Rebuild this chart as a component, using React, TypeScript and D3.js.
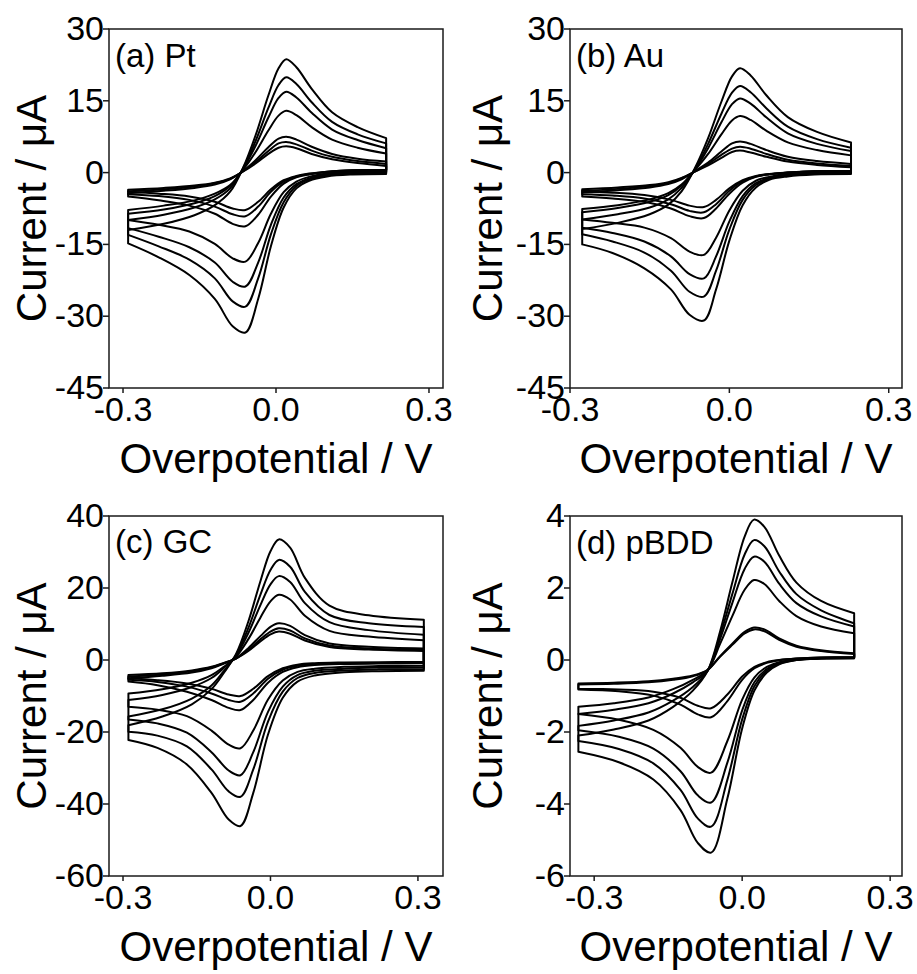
import React from "react";
import * as d3 from "d3";

// ---------- (a) Pt ----------
const ptFwdX = [-0.29, -0.22, -0.16, -0.12, -0.09, -0.065, -0.04, -0.015, 0.005, 0.02, 0.04, 0.07, 0.11, 0.16, 0.216];
const ptFwd = [
  [-12.0, -10.7, -8.9, -6.8, -4.0, 0.9, 7.8, 16.1, 21.8, 23.7, 22.0, 17.5, 12.6, 9.5, 7.2],
  [-9.9, -8.8, -7.3, -5.6, -3.3, 0.8, 6.6, 13.5, 18.3, 19.9, 18.5, 14.7, 10.6, 8.0, 6.1],
  [-8.6, -7.7, -6.4, -4.9, -2.8, 0.7, 5.6, 11.5, 15.6, 16.9, 15.7, 12.5, 9.0, 6.8, 5.1],
  [-7.8, -6.9, -5.8, -4.4, -2.6, 0.5, 4.3, 8.8, 11.9, 12.9, 12.0, 9.5, 6.9, 5.2, 4.0],
  [-4.3, -3.8, -3.2, -2.5, -1.4, 0.3, 2.6, 5.3, 7.1, 7.5, 6.9, 5.4, 3.9, 2.9, 2.3],
  [-3.9, -3.5, -2.9, -2.2, -1.3, 0.25, 2.2, 4.5, 6.1, 6.4, 5.9, 4.6, 3.3, 2.4, 1.8],
  [-3.6, -3.2, -2.7, -2.1, -1.2, 0.2, 1.9, 3.9, 5.2, 5.5, 5.1, 3.9, 2.8, 2.0, 1.4],
];
const ptRevX = [0.216, 0.15, 0.1, 0.065, 0.04, 0.015, -0.01, -0.035, -0.06, -0.085, -0.12, -0.17, -0.23, -0.29];
const ptRev = [
  [-0.3, -0.4, -0.8, -1.7, -3.3, -7.3, -15.4, -26.4, -33.4, -32.1, -26.4, -21.4, -17.7, -14.8],
  [-0.1, -0.2, -0.6, -1.4, -2.8, -6.2, -12.9, -22.1, -28.0, -26.9, -22.1, -18.2, -15.4, -13.0],
  [0.1, 0.0, -0.4, -1.2, -2.4, -5.2, -10.9, -18.8, -23.8, -22.8, -18.8, -15.6, -13.4, -11.6],
  [0.3, 0.2, -0.2, -0.9, -1.9, -4.1, -8.6, -14.7, -18.6, -17.9, -14.9, -12.3, -10.9, -9.9],
  [0.5, 0.4, 0.1, -0.4, -1.0, -2.3, -5.0, -8.8, -11.2, -10.7, -8.6, -6.9, -5.8, -5.0],
  [0.6, 0.5, 0.2, -0.3, -0.8, -1.9, -4.0, -7.1, -9.1, -8.7, -7.1, -5.7, -4.9, -4.5],
  [0.6, 0.5, 0.2, -0.2, -0.7, -1.6, -3.5, -6.1, -7.8, -7.5, -6.1, -5.0, -4.4, -4.0],
];
const ptYTicks = [30, 15, 0, -15, -30, -45];

// ---------- (b) Au ----------
const auFwdX = [-0.277, -0.21, -0.15, -0.115, -0.09, -0.065, -0.04, -0.015, 0.005, 0.02, 0.04, 0.07, 0.11, 0.165, 0.229];
const auFwd = [
  [-11.8, -10.5, -8.7, -6.7, -3.9, 0.9, 7.2, 14.8, 20.1, 21.8, 20.3, 16.1, 11.6, 8.5, 6.3],
  [-9.8, -8.7, -7.3, -5.6, -3.2, 0.7, 6.0, 12.3, 16.7, 18.1, 16.8, 13.4, 9.6, 7.0, 5.2],
  [-8.3, -7.4, -6.1, -4.7, -2.7, 0.6, 5.1, 10.5, 14.3, 15.5, 14.4, 11.5, 8.2, 6.0, 4.5],
  [-7.6, -6.8, -5.6, -4.3, -2.5, 0.5, 3.9, 8.0, 10.9, 11.8, 11.0, 8.7, 6.3, 4.7, 3.6],
  [-4.2, -3.7, -3.1, -2.4, -1.4, 0.3, 2.1, 4.4, 6.1, 6.5, 6.0, 4.7, 3.3, 2.4, 1.8],
  [-3.8, -3.4, -2.8, -2.2, -1.2, 0.2, 1.8, 3.7, 5.0, 5.4, 5.0, 3.9, 2.7, 1.9, 1.4],
  [-3.5, -3.1, -2.6, -2.0, -1.1, 0.2, 1.5, 3.1, 4.3, 4.6, 4.2, 3.3, 2.3, 1.6, 1.1],
];
const auRevX = [0.229, 0.16, 0.11, 0.075, 0.05, 0.025, 0.0, -0.025, -0.048, -0.075, -0.11, -0.16, -0.22, -0.277];
const auRev = [
  [-0.3, -0.4, -0.8, -1.5, -3.1, -6.8, -14.2, -24.4, -30.9, -29.7, -24.4, -20.0, -16.8, -15.0],
  [-0.1, -0.2, -0.6, -1.3, -2.6, -5.7, -11.9, -20.5, -25.9, -24.9, -20.5, -16.7, -14.4, -12.9],
  [0.1, 0.0, -0.4, -1.1, -2.2, -4.9, -10.2, -17.5, -22.1, -21.2, -17.5, -14.4, -12.6, -11.5],
  [0.3, 0.2, -0.2, -0.9, -1.7, -3.8, -7.9, -13.6, -17.2, -16.5, -13.7, -11.5, -10.5, -9.8],
  [0.4, 0.3, 0.0, -0.4, -0.9, -2.1, -4.4, -7.5, -9.5, -9.1, -7.5, -6.1, -5.4, -5.0],
  [0.4, 0.3, 0.0, -0.3, -0.8, -1.8, -3.8, -6.6, -8.3, -8.0, -6.6, -5.4, -4.8, -4.5],
  [0.4, 0.3, 0.0, -0.3, -0.7, -1.6, -3.3, -5.7, -7.2, -6.9, -5.7, -4.7, -4.2, -4.0],
];
const auYTicks = [30, 15, 0, -15, -30, -45];

// ---------- (c) GC ----------
const gcFwdX = [-0.289, -0.22, -0.16, -0.12, -0.095, -0.07, -0.045, -0.02, 0.0, 0.017, 0.04, 0.07, 0.12, 0.2, 0.312];
const gcFwd = [
  [-18.1, -15.7, -12.3, -8.1, -3.6, 1.7, 10.7, 22.1, 30.2, 33.5, 31.2, 22.8, 15.1, 12.4, 11.2],
  [-15.7, -13.7, -10.7, -7.1, -3.1, 1.4, 8.9, 18.3, 25.0, 27.8, 25.9, 18.9, 12.5, 10.2, 9.2],
  [-11.1, -9.7, -7.5, -5.0, -2.2, 1.2, 7.5, 15.4, 21.0, 23.3, 21.7, 15.8, 10.5, 8.3, 7.0],
  [-9.3, -8.1, -6.3, -4.2, -1.9, 0.9, 5.8, 11.9, 16.3, 18.1, 16.8, 12.3, 8.1, 6.5, 5.5],
  [-5.1, -4.4, -3.5, -2.3, -1.0, 0.5, 3.3, 6.7, 9.2, 10.2, 9.5, 6.9, 4.6, 3.7, 3.2],
  [-4.6, -4.0, -3.1, -2.1, -0.9, 0.4, 2.8, 5.8, 7.9, 8.8, 8.2, 6.0, 4.0, 3.2, 2.8],
  [-4.2, -3.7, -2.9, -1.9, -0.8, 0.4, 2.5, 5.2, 7.1, 7.9, 7.3, 5.4, 3.6, 2.9, 2.5],
];
const gcRevX = [0.312, 0.22, 0.15, 0.09, 0.055, 0.025, -0.005, -0.035, -0.061, -0.085, -0.12, -0.17, -0.23, -0.289];
const gcRev = [
  [-3.0, -3.1, -3.4, -4.3, -6.0, -10.5, -20.7, -36.9, -46.1, -44.3, -36.9, -29.0, -24.4, -22.2],
  [-2.5, -2.6, -2.9, -3.6, -5.0, -8.8, -17.1, -30.4, -38.0, -36.5, -30.4, -24.0, -21.0, -19.9],
  [-2.0, -2.1, -2.4, -3.0, -4.2, -7.4, -14.4, -25.6, -32.0, -30.7, -25.6, -20.2, -17.6, -16.5],
  [-1.6, -1.7, -1.9, -2.4, -3.3, -5.7, -11.0, -19.6, -24.5, -23.5, -19.6, -15.6, -13.8, -13.0],
  [-0.9, -1.0, -1.1, -1.4, -2.0, -3.3, -6.3, -11.1, -13.9, -13.3, -11.1, -8.8, -7.0, -6.0],
  [-0.7, -0.8, -0.9, -1.1, -1.6, -2.7, -5.2, -9.3, -11.6, -11.1, -9.3, -7.4, -6.1, -5.5],
  [-0.5, -0.6, -0.7, -0.9, -1.3, -2.3, -4.5, -8.0, -10.0, -9.6, -8.0, -6.5, -5.6, -5.1],
];
const gcYTicks = [40, 20, 0, -20, -40, -60];

// ---------- (d) pBDD ----------
const bddFwdX = [-0.332, -0.26, -0.19, -0.14, -0.1, -0.07, -0.045, -0.02, 0.005, 0.024, 0.045, 0.075, 0.11, 0.16, 0.227];
const bddFwd = [
  [-2.1, -1.93, -1.68, -1.3, -0.85, -0.3, 0.78, 2.15, 3.43, 3.9, 3.7, 2.9, 2.15, 1.64, 1.3],
  [-1.83, -1.68, -1.46, -1.13, -0.75, -0.3, 0.67, 1.83, 2.93, 3.33, 3.16, 2.46, 1.83, 1.38, 1.02],
  [-1.5, -1.38, -1.2, -0.93, -0.62, -0.3, 0.57, 1.58, 2.53, 2.87, 2.73, 2.12, 1.58, 1.21, 0.93],
  [-1.3, -1.2, -1.04, -0.81, -0.55, -0.28, 0.44, 1.22, 1.95, 2.22, 2.11, 1.64, 1.22, 0.93, 0.74],
  [-0.68, -0.66, -0.62, -0.55, -0.45, -0.28, 0.1, 0.45, 0.78, 0.9, 0.85, 0.6, 0.4, 0.27, 0.19],
  [-0.65, -0.63, -0.59, -0.52, -0.43, -0.27, 0.09, 0.42, 0.74, 0.85, 0.8, 0.56, 0.37, 0.25, 0.17],
];
const bddRevX = [0.227, 0.16, 0.11, 0.075, 0.05, 0.025, 0.0, -0.03, -0.063, -0.09, -0.125, -0.18, -0.25, -0.332];
const bddRev = [
  [0.05, 0.04, 0.0, -0.12, -0.35, -0.84, -1.9, -3.85, -5.35, -5.08, -4.17, -3.32, -2.84, -2.55],
  [0.05, 0.04, 0.0, -0.1, -0.3, -0.72, -1.65, -3.33, -4.63, -4.4, -3.61, -2.87, -2.47, -2.25],
  [0.06, 0.05, 0.01, -0.08, -0.25, -0.61, -1.4, -2.85, -3.96, -3.76, -3.09, -2.46, -2.13, -1.95],
  [0.06, 0.05, 0.01, -0.06, -0.19, -0.48, -1.1, -2.25, -3.13, -2.97, -2.44, -1.94, -1.66, -1.5],
  [0.08, 0.07, 0.04, -0.01, -0.08, -0.23, -0.55, -1.14, -1.59, -1.51, -1.24, -0.99, -0.87, -0.82],
  [0.08, 0.07, 0.04, 0.0, -0.06, -0.19, -0.46, -0.96, -1.34, -1.27, -1.05, -0.88, -0.82, -0.8],
];
const bddYTicks = [4, 2, 0, -2, -4, -6];

const xTicks = [-0.3, 0.0, 0.3];
const xTitle = "Overpotential / V";
const yTitle = "Current / \u03bcA";

const FONT = "'Liberation Sans', Arial, sans-serif";

type PanelCfg = {
  label: string;
  box: [number, number, number, number];
  xDomain: [number, number];
  yDomain: [number, number];
  yTicks: number[];
  fwdX: number[];
  fwd: number[][];
  revX: number[];
  rev: number[][];
  yTitleX: number;
  labelDy: number;
};

function Panel({ p }: { p: PanelCfg }) {
  const [l, t, r, b] = p.box;
  const x = d3.scaleLinear().domain(p.xDomain).range([l, r]);
  const y = d3.scaleLinear().domain(p.yDomain).range([b, t]);
  const line = d3
    .line<[number, number]>()
    .x((d) => x(d[0]))
    .y((d) => y(d[1]))
    .curve(d3.curveCatmullRom.alpha(0.5));
  const paths = p.fwd.map((fy, i) => {
    const f = line(p.fwdX.map((xv, j) => [xv, fy[j]] as [number, number])) || "";
    const rv = line(p.revX.map((xv, j) => [xv, p.rev[i][j]] as [number, number])) || "";
    return f + rv.replace(/^M/, "L") + "Z";
  });
  const fmt = (v: number) => d3.format(".1f")(v).replace("\u2212", "-");
  const cy = (t + b) / 2;
  return (
    <g>
      {paths.map((d, i) => (
        <path key={i} d={d} fill="none" stroke="#000" strokeWidth={2} strokeLinejoin="round" />
      ))}
      <rect x={l} y={t} width={r - l} height={b - t} fill="none" stroke="#1a1a1a" strokeWidth={1.5} />
      {p.yTicks.map((v) => (
        <g key={"y" + v}>
          <line x1={l - 6} x2={l} y1={y(v)} y2={y(v)} stroke="#1a1a1a" strokeWidth={1.5} />
          <text x={l - 5} y={y(v) + 11} textAnchor="end" fontSize={34} fill="#000">
            {String(v)}
          </text>
        </g>
      ))}
      {xTicks.map((v) => (
        <g key={"x" + v}>
          <line x1={x(v)} x2={x(v)} y1={b} y2={b + 5} stroke="#1a1a1a" strokeWidth={1.5} />
          <text x={x(v)} y={b + 33} textAnchor="middle" fontSize={34} fill="#000">
            {fmt(v)}
          </text>
        </g>
      ))}
      <text x={(l + r) / 2} y={b + 85} textAnchor="middle" fontSize={42} fill="#000">
        {xTitle}
      </text>
      <text
        transform={`translate(${p.yTitleX},${cy}) rotate(-90)`}
        textAnchor="middle"
        fontSize={42}
        fill="#000"
      >
        {yTitle}
      </text>
      <text x={l + 6} y={t + p.labelDy} fontSize={33} fill="#000">
        {p.label}
      </text>
    </g>
  );
}

export default function App() {
  const panels: PanelCfg[] = [
    { label: "(a) Pt", box: [109, 29, 443, 388], xDomain: [-0.3275, 0.3275], yDomain: [-45, 30], yTicks: ptYTicks, fwdX: ptFwdX, fwd: ptFwd, revX: ptRevX, rev: ptRev, yTitleX: 46, labelDy: 38 },
    { label: "(b) Au", box: [570, 29, 902, 388], xDomain: [-0.3, 0.325], yDomain: [-45, 30], yTicks: auYTicks, fwdX: auFwdX, fwd: auFwd, revX: auRevX, rev: auRev, yTitleX: 502, labelDy: 38 },
    { label: "(c) GC", box: [109, 516, 443, 876], xDomain: [-0.3285, 0.351], yDomain: [-60, 40], yTicks: gcYTicks, fwdX: gcFwdX, fwd: gcFwd, revX: gcRevX, rev: gcRev, yTitleX: 46, labelDy: 37 },
    { label: "(d) pBDD", box: [570, 516, 902, 876], xDomain: [-0.349, 0.324], yDomain: [-6, 4], yTicks: bddYTicks, fwdX: bddFwdX, fwd: bddFwd, revX: bddRevX, rev: bddRev, yTitleX: 502, labelDy: 38 },
  ];
  return (
    <svg
      width={917}
      height={974}
      style={{ position: "absolute", left: 0, top: 0, background: "#fff" }}
      fontFamily={FONT}
    >
      {panels.map((p) => (
        <Panel key={p.label} p={p} />
      ))}
    </svg>
  );
}
